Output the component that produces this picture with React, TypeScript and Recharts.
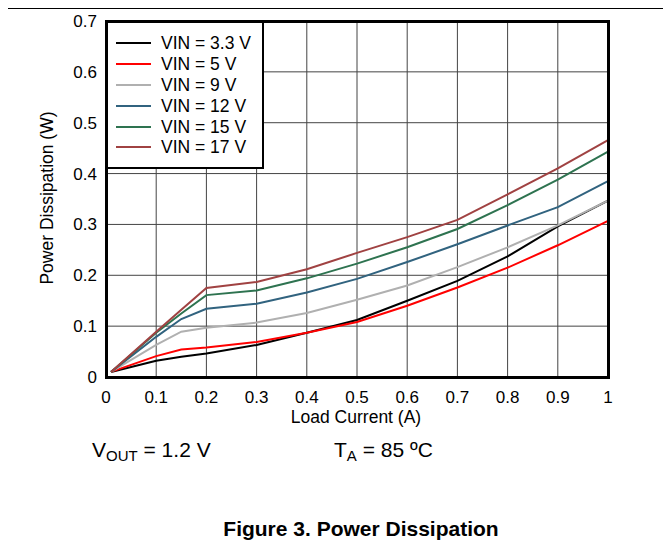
import { LineChart, Line, XAxis, YAxis, CartesianGrid } from 'recharts';

const loadCurrent = [0.01, 0.1, 0.15, 0.2, 0.3, 0.4, 0.5, 0.6, 0.7, 0.8, 0.9, 1.0];
const vin33 = [0.01, 0.032, 0.04, 0.046, 0.063, 0.087, 0.112, 0.15, 0.189, 0.237, 0.296, 0.347];
const vin5 = [0.01, 0.041, 0.054, 0.058, 0.069, 0.087, 0.108, 0.14, 0.176, 0.215, 0.259, 0.307];
const vin9 = [0.01, 0.063, 0.089, 0.097, 0.107, 0.126, 0.152, 0.18, 0.216, 0.255, 0.298, 0.347];
const vin12 = [0.01, 0.079, 0.114, 0.134, 0.144, 0.166, 0.193, 0.226, 0.261, 0.298, 0.334, 0.385];
const vin15 = [0.01, 0.087, 0.125, 0.161, 0.17, 0.194, 0.223, 0.255, 0.291, 0.338, 0.388, 0.443];
const vin17 = [0.01, 0.089, 0.132, 0.175, 0.187, 0.212, 0.244, 0.275, 0.309, 0.359, 0.41, 0.466];

const xTicks = [0, 0.1, 0.2, 0.3, 0.4, 0.5, 0.6, 0.7, 0.8, 0.9, 1];
const yTicks = [0, 0.1, 0.2, 0.3, 0.4, 0.5, 0.6, 0.7];

const series = [
  { key: 'v33', name: 'VIN = 3.3 V', color: '#000000', values: vin33 },
  { key: 'v5', name: 'VIN = 5 V', color: '#ff0000', values: vin5 },
  { key: 'v9', name: 'VIN = 9 V', color: '#b0b0b0', values: vin9 },
  { key: 'v12', name: 'VIN = 12 V', color: '#31637f', values: vin12 },
  { key: 'v15', name: 'VIN = 15 V', color: '#2e7350', values: vin15 },
  { key: 'v17', name: 'VIN = 17 V', color: '#a04242', values: vin17 },
];

const data = loadCurrent.map((x, i) => {
  const row: Record<string, number> = { x };
  series.forEach((s) => (row[s.key] = s.values[i]));
  return row;
});

const font = '"Liberation Sans", Arial, sans-serif';
const tickStyle = { fontSize: 17, fill: '#000', fontFamily: font };

function LegendBox() {
  return (
    <div
      style={{
        position: 'absolute',
        left: 106,
        top: 21,
        background: '#fff',
        borderRight: '2px solid #000',
        borderBottom: '2px solid #000',
        width: 158,
        height: 148,
        boxSizing: 'border-box',
        paddingTop: 12,
        paddingLeft: 10,
      }}
    >
      {series.map((s) => (
        <div key={s.key} style={{ display: 'flex', alignItems: 'center', height: 20.8 }}>
          <div style={{ width: 35, height: 2, background: s.color, marginRight: 10 }} />
          <span style={{ fontFamily: font, fontSize: 17.5, color: '#000', lineHeight: '20px' }}>{s.name}</span>
        </div>
      ))}
    </div>
  );
}

export default function App() {
  return (
    <div style={{ position: 'relative', width: 671, height: 540, margin: '-8px -8px 0 -8px', background: '#fff', fontFamily: font }}>
      <div style={{ position: 'absolute', left: 0, top: 7, width: 671, height: 2, background: '#000' }} />
      <LineChart width={671} height={540} data={data} margin={{ top: 21, right: 63, left: 66, bottom: 133 }}>
        <CartesianGrid stroke="#444" strokeWidth={1} horizontalValues={yTicks} verticalValues={xTicks} />
        <XAxis
          dataKey="x"
          type="number"
          domain={[0, 1]}
          ticks={xTicks}
          axisLine={false}
          tickLine={false}
          tick={tickStyle}
          tickMargin={8}
          height={30}
          interval={0}
        />
        <YAxis
          type="number"
          domain={[0, 0.7]}
          ticks={yTicks}
          axisLine={false}
          tickLine={false}
          tick={tickStyle}
          tickMargin={3}
          width={40}
          interval={0}
        />
        {series.map((s) => (
          <Line
            key={s.key}
            dataKey={s.key}
            name={s.name}
            stroke={s.color}
            strokeWidth={2}
            dot={false}
            type="linear"
            isAnimationActive={false}
          />
        ))}
      </LineChart>
      <LegendBox />
      <div
        style={{
          position: 'absolute',
          left: 105,
          top: 20,
          width: 505,
          height: 359,
          border: '3px solid #000',
          boxSizing: 'border-box',
          pointerEvents: 'none',
        }}
      />
      <div
        style={{
          position: 'absolute',
          left: 47,
          top: 198,
          transform: 'translate(-50%, -50%) rotate(-90deg)',
          whiteSpace: 'nowrap',
          fontSize: 17.5,
        }}
      >
        Power Dissipation (W)
      </div>
      <div
        style={{
          position: 'absolute',
          left: 356,
          top: 417,
          transform: 'translate(-50%, -50%)',
          whiteSpace: 'nowrap',
          fontSize: 17.5,
          lineHeight: '18px',
        }}
      >
        Load Current (A)
      </div>
      <div style={{ position: 'absolute', left: 92, top: 438, whiteSpace: 'nowrap', fontSize: 21, lineHeight: '24px' }}>
        V<sub style={{ fontSize: 15, verticalAlign: -4 }}>OUT</sub> = 1.2 V
      </div>
      <div style={{ position: 'absolute', left: 334, top: 438, whiteSpace: 'nowrap', fontSize: 21, lineHeight: '24px' }}>
        T<sub style={{ fontSize: 15, verticalAlign: -4 }}>A</sub> = 85 ºC
      </div>
      <div
        style={{
          position: 'absolute',
          left: 361,
          top: 517,
          whiteSpace: 'nowrap',
          transform: 'translateX(-50%)',
          fontSize: 21,
          lineHeight: '24px',
          fontWeight: 'bold',
        }}
      >
        Figure 3. Power Dissipation
      </div>
    </div>
  );
}
